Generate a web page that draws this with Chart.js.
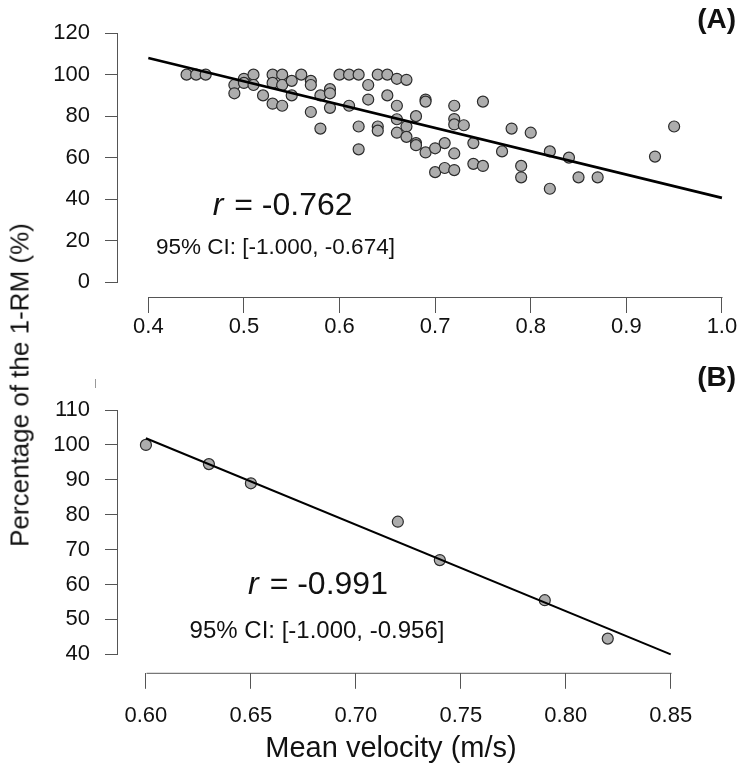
<!DOCTYPE html>
<html>
<head>
<meta charset="utf-8">
<script src="https://cdn.jsdelivr.net/npm/chart.js@4.4.1/dist/chart.umd.min.js"></script>
<style>
  body { margin: 0; background: #fff; }
  #wrap { position: relative; width: 740px; height: 770px; overflow: hidden; }
  canvas { position: absolute; left: 0; }
  #chartA { top: 0; }
  #chartB { top: 340px; }
  .title {
    position: absolute; transform: translate(-50%, -50%);
    font: 26px 'Liberation Sans', Arial, sans-serif; color: #111; white-space: nowrap;
  }
  #ytitle { left: 20px; top: 385px; transform: translate(-50%, -50%) rotate(-90deg); }
  #xtitle { left: 391px; top: 747px; font-size: 29px; }
  #stray { position: absolute; left: 95px; top: 379px; width: 1px; height: 9px; background: #999; }
</style>
</head>
<body>
<div id="wrap">
  <canvas id="chartA" width="740" height="340"></canvas>
  <canvas id="chartB" width="740" height="430"></canvas>
  <div class="title" id="ytitle">Percentage of the 1-RM (%)</div>
  <div class="title" id="xtitle">Mean velocity (m/s)</div>
  <div id="stray"></div>
</div>
<script>
// panel A: all sessions
const velA = [0.44, 0.45, 0.46, 0.49, 0.49, 0.50, 0.50, 0.51, 0.51, 0.52,
  0.53, 0.53, 0.53, 0.54, 0.54, 0.54, 0.55, 0.55, 0.56, 0.57,
  0.57, 0.57, 0.58, 0.58, 0.59, 0.59, 0.59, 0.60, 0.61, 0.61,
  0.62, 0.62, 0.62, 0.63, 0.63, 0.64, 0.64, 0.64, 0.65, 0.65,
  0.66, 0.66, 0.66, 0.66, 0.67, 0.67, 0.67, 0.68, 0.68, 0.68,
  0.69, 0.69, 0.69, 0.70, 0.70, 0.71, 0.71, 0.72, 0.72, 0.72,
  0.72, 0.72, 0.73, 0.74, 0.74, 0.75, 0.75, 0.77, 0.78, 0.79,
  0.79, 0.80, 0.82, 0.82, 0.84, 0.85, 0.87, 0.93, 0.95];
const pctA = [100, 100, 100, 95, 91, 98, 96, 100, 95, 90,
  100, 96, 86, 100, 95, 85, 97, 90, 100, 97,
  95, 82, 90, 74, 93, 91, 84, 100, 100, 85,
  100, 75, 64, 95, 88, 100, 75, 73, 100, 90,
  98, 85, 78.5, 72, 97.5, 75, 70, 80, 67, 66,
  88, 87, 62.5, 64.5, 53, 67, 55, 85, 78.6, 76,
  62, 54, 75.6, 67, 57, 87, 56, 63, 74, 56,
  50.5, 72, 63, 45, 60, 50.5, 50.5, 60.5, 75];
const fitAx = [0.4, 1.0];
const fitAy = [108, 40.6];
const xTicksA = [0.4, 0.5, 0.6, 0.7, 0.8, 0.9, 1.0];
const xLabelsA = ['0.4', '0.5', '0.6', '0.7', '0.8', '0.9', '1.0'];
const yTicksA = [0, 20, 40, 60, 80, 100, 120];

// panel B: single subject
const velB = [0.60, 0.63, 0.65, 0.72, 0.74, 0.79, 0.82];
const pctB = [100, 94.5, 89, 78, 67, 55.5, 44.5];
const fitBx = [0.60, 0.85];
const fitBy = [101.9, 40.0];
const xTicksB = [0.60, 0.65, 0.70, 0.75, 0.80, 0.85];
const xLabelsB = ['0.60', '0.65', '0.70', '0.75', '0.80', '0.85'];
const yTicksB = [40, 50, 60, 70, 80, 90, 100, 110];

const FONT = "'Liberation Sans', Arial, sans-serif";
Chart.defaults.font.family = FONT;
Chart.defaults.color = '#111';

const $ = id => document.getElementById(id);
const pts = (xs, ys) => xs.map((v, i) => ({x: v, y: ys[i]}));

// R-style axis lines (from first to last tick) plus panel notes
const rStyle = {
  id: 'rStyle',
  afterDraw(chart, args, o) {
    const {ctx, chartArea: ca, scales: {x, y}} = chart;
    const xt = x.ticks, yt = y.ticks;
    ctx.save();
    ctx.strokeStyle = '#555';
    ctx.lineWidth = 1;
    ctx.beginPath();
    ctx.moveTo(Math.round(x.getPixelForValue(xt[0].value)) + .5, ca.bottom + .5);
    ctx.lineTo(Math.round(x.getPixelForValue(xt[xt.length - 1].value)) + .5, ca.bottom + .5);
    ctx.moveTo(ca.left - .5, Math.round(y.getPixelForValue(yt[0].value)) + .5);
    ctx.lineTo(ca.left - .5, Math.round(y.getPixelForValue(yt[yt.length - 1].value)) + .5);
    ctx.stroke();

    ctx.fillStyle = '#111';
    ctx.textBaseline = 'middle';
    // r = ...
    const rx = x.getPixelForValue(o.rAt[0]), ry = y.getPixelForValue(o.rAt[1]);
    ctx.font = 'italic 32px ' + FONT;
    const w1 = ctx.measureText('r').width;
    ctx.font = '32px ' + FONT;
    const rest = ' = ' + o.r;
    const w2 = ctx.measureText(rest).width;
    let sx = rx - (w1 + w2) / 2;
    ctx.textAlign = 'left';
    ctx.font = 'italic 32px ' + FONT;
    ctx.fillText('r', sx, ry);
    ctx.font = '32px ' + FONT;
    ctx.fillText(rest, sx + w1 + 2, ry);
    // CI
    ctx.textAlign = 'center';
    ctx.font = o.ciSize + 'px ' + FONT;
    ctx.fillText(o.ci, x.getPixelForValue(o.ciAt[0]), y.getPixelForValue(o.ciAt[1]));
    // panel letter
    ctx.textAlign = 'right';
    ctx.font = 'bold 28px ' + FONT;
    ctx.fillText(o.tag, chart.width - 4, o.tagY);
    ctx.restore();
  }
};

function makePanel(id, d) {
  return new Chart($(id), {
    type: 'scatter',
    data: {
      datasets: [
        { data: pts(d.fitX, d.fitY), showLine: true, borderColor: '#000', borderWidth: d.lineW,
          pointRadius: 0, order: 0 },
        { data: pts(d.vx, d.vy), pointRadius: d.ptR, pointBackgroundColor: '#adadad',
          pointBorderColor: '#2b2b2b', pointBorderWidth: 1.2, order: 1 }
      ]
    },
    options: {
      responsive: false,
      devicePixelRatio: 1,
      animation: false,
      events: [],
      layout: { padding: { left: 0, right: 5, top: d.padTop, bottom: 0 } },
      plugins: { legend: { display: false }, tooltip: { enabled: false }, rStyle: d.notes },
      scales: {
        x: {
          min: d.xMin, max: d.xMax,
          afterBuildTicks: s => { s.ticks = d.xTicks.map(v => ({value: v})); },
          afterFit: s => { s.height = d.xH; },
          grid: { drawOnChartArea: false, tickLength: 16, tickColor: '#555' },
          border: { display: false },
          ticks: { autoSkip: false, maxRotation: 0, padding: d.xPad, font: { size: 22 },
            callback: (v, i) => d.xLabels[i] }
        },
        y: {
          min: d.yMin, max: d.yMax,
          afterBuildTicks: s => { s.ticks = d.yTicks.map(v => ({value: v})); },
          afterFit: s => { s.width = 118; },
          grid: { drawOnChartArea: false, tickLength: 13, tickColor: '#555' },
          border: { display: false },
          ticks: { autoSkip: false, padding: 15, font: { size: 22 },
            callback: v => String(v) }
        }
      }
    },
    plugins: [rStyle]
  });
}

makePanel('chartA', {
  vx: velA, vy: pctA, fitX: fitAx, fitY: fitAy, lineW: 2.6, ptR: 5.5,
  xTicks: xTicksA, xLabels: xLabelsA, yTicks: yTicksA,
  xMin: 0.36828, xMax: 1.0119, yMin: -7.18, yMax: 122.38,
  xH: 43, xPad: 1, padTop: 8,
  notes: { r: '-0.762', rAt: [0.5394, 36.4], ci: '95% CI: [-1.000, -0.674]', ciAt: [0.533, 16.6],
    ciSize: 22.5, tag: '(A)', tagY: 20 }
});

makePanel('chartB', {
  vx: velB, vy: pctB, fitX: fitBx, fitY: fitBy, lineW: 2, ptR: 5.5,
  xTicks: xTicksB, xLabels: xLabelsB, yTicks: yTicksB,
  xMin: 0.5867, xMax: 0.8798, yMin: 34.70, yMax: 118.6,
  xH: 97.2, xPad: 14, padTop: 40,
  notes: { r: '-0.991', rAt: [0.6815, 59.9], ci: '95% CI: [-1.000, -0.956]', ciAt: [0.6815, 46.7],
    ciSize: 24, tag: '(B)', tagY: 38 }
});
</script>
</body>
</html>
